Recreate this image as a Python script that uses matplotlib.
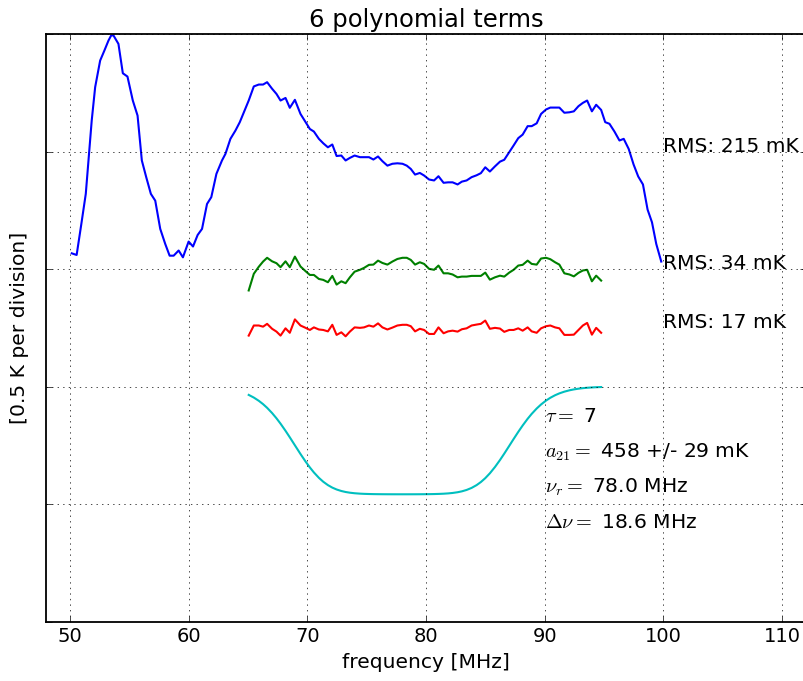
import numpy as np
import matplotlib
matplotlib.use("Agg")
import matplotlib.pyplot as plt

# Frequency channels [MHz]
freq = [50.17, 50.58, 50.97, 51.35, 51.85, 52.14, 52.56, 52.92, 53.26, 53.49,
        53.68, 54.10, 54.47, 54.86, 55.31, 55.71, 56.07, 56.44, 56.83, 57.20,
        57.62, 58.04, 58.41, 58.75, 59.17, 59.53, 60.01, 60.38, 60.77, 61.14,
        61.56, 61.92, 62.35, 62.82, 63.11, 63.53, 63.95, 64.32, 65.07, 65.50,
        65.92, 66.28, 66.62, 67.04, 67.41, 67.75, 68.17, 68.53, 68.96, 69.43,
        69.86, 70.22, 70.56, 70.98, 71.35, 71.74, 72.11, 72.47, 72.87, 73.23,
        73.59, 73.99, 74.44, 74.78, 75.20, 75.57, 75.96, 76.33, 76.75, 77.17,
        77.59, 78.02, 78.38, 78.72, 79.08, 79.48, 79.84, 80.26, 80.68, 81.05,
        81.48, 81.86, 82.24, 82.66, 83.02, 83.42, 83.84, 84.26, 84.62, 84.99,
        85.38, 85.81, 86.23, 86.59, 87.01, 87.38, 87.77, 88.14, 88.56, 88.90,
        89.32, 89.69, 90.11, 90.47, 90.87, 91.23, 91.65, 92.08, 92.45, 92.84,
        93.21, 93.57, 93.97, 94.33, 94.75, 95.09, 95.45, 95.87, 96.29, 96.65,
        97.07, 97.48, 97.87, 98.27, 98.66, 99.03, 99.39, 99.81]

# Measured spectrum (offset) [K]
spectrum = [1.567, 1.560, 1.690, 1.820, 2.132, 2.274, 2.387, 2.430, 2.472, 2.494,
            2.494, 2.458, 2.333, 2.319, 2.217, 2.153, 1.962, 1.891, 1.820, 1.791,
            1.671, 1.607, 1.557, 1.557, 1.579, 1.550, 1.617, 1.596, 1.645, 1.671,
            1.777, 1.806, 1.905, 1.962, 1.990, 2.054, 2.089, 2.125, 2.217, 2.277,
            2.285, 2.285, 2.295, 2.267, 2.245, 2.217, 2.228, 2.186, 2.220, 2.160,
            2.125, 2.096, 2.085, 2.054, 2.035, 2.018, 2.030, 1.981, 1.983, 1.962,
            1.973, 1.983, 1.976, 1.976, 1.976, 1.966, 1.979, 1.959, 1.940, 1.948,
            1.950, 1.948, 1.940, 1.926, 1.902, 1.909, 1.898, 1.881, 1.877, 1.895,
            1.867, 1.869, 1.869, 1.860, 1.872, 1.877, 1.891, 1.899, 1.908, 1.933,
            1.915, 1.937, 1.957, 1.965, 1.997, 2.026, 2.057, 2.072, 2.108, 2.108,
            2.120, 2.160, 2.179, 2.187, 2.187, 2.187, 2.165, 2.167, 2.171, 2.193,
            2.207, 2.217, 2.171, 2.199, 2.177, 2.125, 2.118, 2.085, 2.047, 2.054,
            2.011, 1.945, 1.894, 1.860, 1.753, 1.699, 1.607, 1.532]

# Residuals after the 6-term polynomial fit (offset) [K]
resid_poly = [1.409, 1.480, 1.510, 1.532, 1.548, 1.533, 1.525, 1.508, 1.533, 1.508,
              1.553, 1.511, 1.491, 1.475, 1.475, 1.458, 1.454, 1.444, 1.471, 1.434,
              1.448, 1.440, 1.465, 1.489, 1.497, 1.505, 1.518, 1.519, 1.536, 1.526,
              1.519, 1.532, 1.543, 1.548, 1.548, 1.539, 1.519, 1.529, 1.522, 1.501,
              1.497, 1.515, 1.482, 1.482, 1.477, 1.465, 1.468, 1.468, 1.471, 1.471,
              1.471, 1.485, 1.455, 1.465, 1.472, 1.468, 1.485, 1.497, 1.515, 1.518,
              1.536, 1.522, 1.519, 1.545, 1.548, 1.542, 1.529, 1.519, 1.482, 1.477,
              1.469, 1.484, 1.494, 1.497, 1.448, 1.472, 1.451]

# Residuals after fitting polynomial + absorption profile (offset) [K]
resid_full = [1.217, 1.260, 1.260, 1.255, 1.267, 1.246, 1.234, 1.217, 1.248, 1.229,
              1.286, 1.260, 1.250, 1.241, 1.252, 1.243, 1.241, 1.235, 1.263, 1.220,
              1.231, 1.214, 1.234, 1.252, 1.250, 1.252, 1.260, 1.255, 1.269, 1.252,
              1.243, 1.251, 1.260, 1.263, 1.263, 1.257, 1.235, 1.246, 1.241, 1.224,
              1.224, 1.252, 1.227, 1.235, 1.238, 1.234, 1.244, 1.248, 1.260, 1.264,
              1.267, 1.281, 1.246, 1.250, 1.247, 1.233, 1.241, 1.241, 1.248, 1.238,
              1.252, 1.235, 1.229, 1.248, 1.257, 1.260, 1.252, 1.248, 1.220, 1.220,
              1.221, 1.241, 1.260, 1.271, 1.221, 1.250, 1.229]

# Best-fit absorption profile parameters
tau = 7
a21_mK, a21_err_mK = 458, 29
nu_r = 78.0
dnu = 18.6
model_offset = 1.0

rms_labels = ["RMS: 215 mK", "RMS: 34 mK", "RMS: 17 mK"]
rms_label_y = [2.0, 1.5, 1.25]

fit_freq = np.array(freq[38:115])


def flattened_gaussian(nu, amp, nu0, width, t):
    b = 4.0 * (nu - nu0) ** 2 / width ** 2 * np.log(-1.0 / t * np.log((1.0 + np.exp(-t)) / 2.0))
    return -amp * (1.0 - np.exp(-t * np.exp(b))) / (1.0 - np.exp(-t))


model = model_offset + flattened_gaussian(fit_freq, a21_mK / 1000.0, nu_r, dnu, tau)

plt.style.use("classic")
plt.rcParams["font.size"] = 14.6
plt.rcParams["xtick.labelsize"] = 14
plt.rcParams["figure.facecolor"] = "white"
plt.rcParams["axes.linewidth"] = 1.3
plt.rcParams["lines.linewidth"] = 1.5

fig = plt.figure(figsize=(8.04, 6.81), dpi=100)
ax = fig.add_axes([46 / 804, 59.3 / 681, 760 / 804, 587.7 / 681])

ax.plot(freq, spectrum, color="b")
ax.plot(fit_freq, resid_poly, color="g")
ax.plot(fit_freq, resid_full, color="r")
ax.plot(fit_freq, model, color="c")

for label, y in zip(rms_labels, rms_label_y):
    ax.text(100, y, label)

param_labels = [r"$\tau = $ %d" % tau,
                r"$a_{21} = $ %d +/- %d mK" % (a21_mK, a21_err_mK),
                r"$\nu_r = $ %.1f MHz" % nu_r,
                r"$\Delta\nu = $ %.1f MHz" % dnu]
for i, label in enumerate(param_labels):
    ax.text(90, 0.85 - 0.15 * i, label)

ax.set_xlim(48, 112)
ax.set_ylim(0, 2.5)
ax.set_xticks([50, 60, 70, 80, 90, 100, 110])
ax.set_yticks([0, 0.5, 1.0, 1.5, 2.0, 2.5])
ax.set_yticklabels([])
ax.grid(True)
ax.set_xlabel("frequency [MHz]")
ax.set_ylabel("[0.5 K per division]", labelpad=8)
ax.set_title("6 polynomial terms", fontsize=17.5)

fig.savefig("out.png", dpi=100)
